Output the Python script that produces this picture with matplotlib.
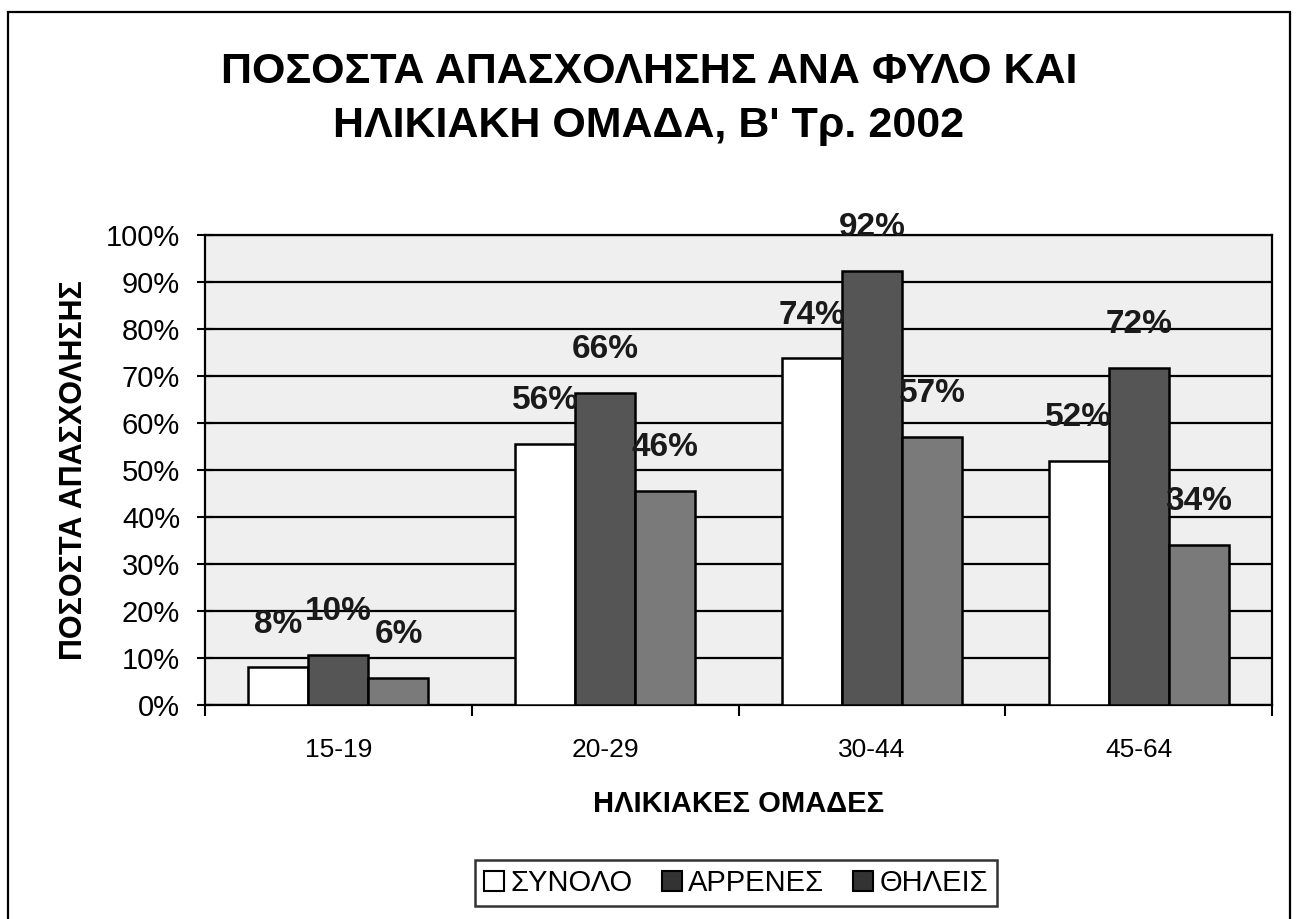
import matplotlib.pyplot as plt
import matplotlib.patches as mpatches
import numpy as np

plt.rcParams['font.family'] = ['Liberation Sans', 'DejaVu Sans']

# δεδομένα
groups = ['15-19', '20-29', '30-44', '45-64']
series = ['ΣΥΝΟΛΟ', 'ΑΡΡΕΝΕΣ', 'ΘΗΛΕΙΣ']
total = [8.0, 55.5, 73.8, 52.0]
men = [10.7, 66.4, 92.4, 71.8]
women = [5.8, 45.6, 57.1, 34.1]
labels_total = ['8%', '56%', '74%', '52%']
labels_men = ['10%', '66%', '92%', '72%']
labels_women = ['6%', '46%', '57%', '34%']
yticks = [0, 10, 20, 30, 40, 50, 60, 70, 80, 90, 100]

colors = ['#ffffff', '#555555', '#7a7a7a']

fig = plt.figure(figsize=(12.98, 9.19), dpi=100)
ax = fig.add_axes([0.158, 0.233, 0.822, 0.511])
ax.set_facecolor('#efefef')

x = np.arange(len(groups))
w = 0.225
data = [total, men, women]
labs = [labels_total, labels_men, labels_women]
for i in range(3):
    bars = ax.bar(x + (i - 1) * w, data[i], w, color=colors[i], edgecolor='black',
                  linewidth=1.8, zorder=3, label=series[i])
    ax.bar_label(bars, labels=labs[i], padding=20, fontsize=24, fontweight='bold',
                 color='#1a1a1a', zorder=4)

ax.set_xlim(-0.5, 3.5)
ax.set_ylim(0, 100)
ax.set_yticks(yticks)
ax.set_yticklabels([str(v) + '%' for v in yticks], fontsize=21)
ax.yaxis.grid(True, color='black', linewidth=1.6, zorder=1)
ax.set_axisbelow(True)
ax.tick_params(axis='y', direction='inout', length=12, width=1.5, pad=12)

ax.set_xticks(x)
ax.set_xticklabels(groups, fontsize=19)
ax.set_xticks(np.arange(-0.5, 4, 1), minor=True)
ax.tick_params(axis='x', which='major', length=0, pad=24)
ax.tick_params(axis='x', which='minor', direction='out', length=8, width=1.5)

for s in ax.spines.values():
    s.set_linewidth(1.6)

ax.set_ylabel('ΠΟΣΟΣΤΑ ΑΠΑΣΧΟΛΗΣΗΣ', fontsize=22, fontweight='bold', labelpad=12)
ax.set_xlabel('ΗΛΙΚΙΑΚΕΣ ΟΜΑΔΕΣ', fontsize=21, fontweight='bold', labelpad=20)

fig.text(0.5, 0.892, 'ΠΟΣΟΣΤΑ ΑΠΑΣΧΟΛΗΣΗΣ ΑΝΑ ΦΥΛΟ ΚΑΙ\nΗΛΙΚΙΑΚΗ ΟΜΑΔΑ, Β\' Τρ. 2002',
         ha='center', va='center', fontsize=31, fontweight='bold', linespacing=1.45)

handles = [mpatches.Patch(facecolor=colors[0], edgecolor='black', linewidth=1.5),
           mpatches.Patch(facecolor='#333333', edgecolor='black', linewidth=1.5),
           mpatches.Patch(facecolor='#333333', edgecolor='black', linewidth=1.5)]
leg = fig.legend(handles, series, loc='center', bbox_to_anchor=(0.567, 0.039), ncol=3,
                 fontsize=21, frameon=True, fancybox=False, edgecolor='black',
                 handlelength=0.7, handleheight=0.7, handletextpad=0.2,
                 columnspacing=1.0, borderpad=0.3)
leg.get_frame().set_linewidth(1.8)

# εξωτερικό πλαίσιο
fig.patches.append(mpatches.Rectangle((0.006, -0.02), 0.988, 1.007, transform=fig.transFigure,
                                      fill=False, edgecolor='black', linewidth=1.6))

fig.savefig('out.png', dpi=100)
